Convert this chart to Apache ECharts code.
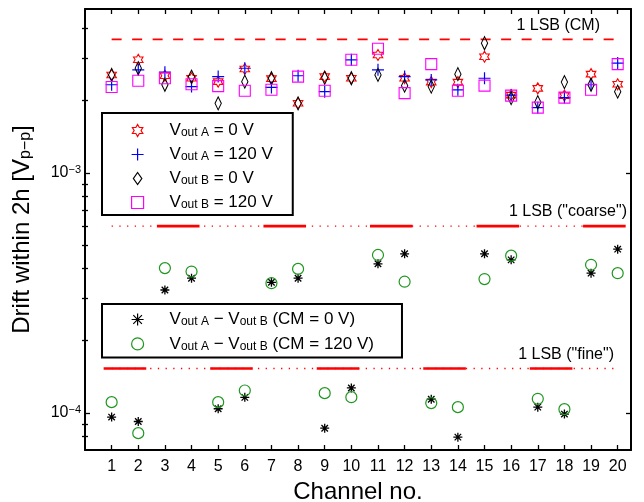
<!DOCTYPE html>
<html>
<head>
<meta charset="utf-8">
<script src="https://cdn.jsdelivr.net/npm/echarts@6/dist/echarts.min.js"></script>
<style>html,body{margin:0;padding:0;background:#fff}#c{width:644px;height:502px}</style>
</head>
<body>
<div id="c"></div>
<script>
// ---------------- data ----------------
const channels = [1,2,3,4,5,6,7,8,9,10,11,12,13,14,15,16,17,18,19,20];

const voutA_0V   = [2.56e-3,2.96e-3,2.54e-3,2.48e-3,2.40e-3,2.71e-3,2.47e-3,1.95e-3,2.52e-3,2.48e-3,3.10e-3,2.48e-3,2.39e-3,2.39e-3,3.05e-3,2.11e-3,2.25e-3,2.10e-3,2.58e-3,2.34e-3];
const voutA_120V = [2.33e-3,2.69e-3,2.63e-3,2.29e-3,2.52e-3,2.73e-3,2.27e-3,2.54e-3,2.18e-3,2.96e-3,2.69e-3,2.52e-3,2.44e-3,2.22e-3,2.48e-3,2.11e-3,1.87e-3,2.06e-3,2.33e-3,2.87e-3];
const voutB_0V   = [2.56e-3,2.73e-3,2.33e-3,2.52e-3,1.95e-3,2.40e-3,2.48e-3,1.95e-3,2.49e-3,2.48e-3,2.56e-3,2.31e-3,2.29e-3,2.58e-3,3.47e-3,2.05e-3,1.97e-3,2.39e-3,2.33e-3,2.18e-3];
const voutB_120V = [2.28e-3,2.42e-3,2.48e-3,2.34e-3,2.30e-3,2.20e-3,2.22e-3,2.52e-3,2.20e-3,2.96e-3,3.29e-3,2.15e-3,2.84e-3,2.20e-3,2.31e-3,2.10e-3,1.87e-3,2.06e-3,2.22e-3,2.84e-3];
const diff_CM0   = [0.96e-4,0.92e-4,3.25e-4,3.64e-4,1.04e-4,1.16e-4,3.50e-4,3.64e-4,0.863e-4,1.27e-4,4.18e-4,4.60e-4,1.14e-4,0.792e-4,4.60e-4,4.34e-4,1.056e-4,0.988e-4,3.82e-4,4.81e-4];
const diff_CM120 = [1.108e-4,0.823e-4,4.01e-4,3.88e-4,1.108e-4,1.239e-4,3.47e-4,3.98e-4,1.208e-4,1.162e-4,4.55e-4,3.52e-4,1.098e-4,1.056e-4,3.61e-4,4.52e-4,1.144e-4,1.036e-4,4.14e-4,3.82e-4];

const seriesNames = [
  'V_{out A} = 0 V',
  'V_{out A} = 120 V',
  'V_{out B} = 0 V',
  'V_{out B} = 120 V',
  'V_{out A} − V_{out B} (CM = 0 V)',
  'V_{out A} − V_{out B} (CM = 120 V)'
];

// 1-LSB reference levels
const lsbCM = 3.6e-3, lsbCoarse = 6.0e-4, lsbFine = 1.53e-4;
const cmSpan = [1, 20];
const dottedSpan = [1, 20];
const coarseSolid = [[2.7,4.3],[6.7,8.3],[10.7,12.3],[14.7,16.3],[18.7,20.3]];
const fineSolid   = [[0.7,2.3],[4.7,6.3],[8.7,10.3],[12.7,14.3],[16.7,18.3]];
const lsbLabels = ['1 LSB (CM)', '1 LSB ("coarse")', '1 LSB ("fine")'];

// tick values
const yMajorTicks = [1e-4, 1e-3];
const yMinorTicks = [8e-5,9e-5,2e-4,3e-4,4e-4,5e-4,6e-4,7e-4,8e-4,9e-4,2e-3,3e-3,4e-3];
const xTicks = channels;

// ---------------- styling ----------------
const FF = '"Liberation Sans", Arial, Helvetica, sans-serif';

function starPath(n, R, r) {
  let p = '';
  for (let k = 0; k < 2 * n; k++) {
    const a = -Math.PI / 2 + k * Math.PI / n;
    const rad = (k % 2) ? r : R;
    p += (k ? 'L' : 'M') + (rad * Math.cos(a)).toFixed(3) + ',' + (rad * Math.sin(a)).toFixed(3);
  }
  return 'path://' + p + 'Z';
}
const SYM = {
  hexagram: starPath(6, 5, 5 / Math.sqrt(3)),
  plus: 'path://M-5,0L5,0M0,-5L0,5',
  diamond: 'path://M0,-6L4.2,0L0,6L-4.2,0Z',
  square: 'path://M0,0L10,0L10,10L0,10Z',
  asterisk: 'path://M-5,0L5,0M0,-5L0,5M-3.6,-3.6L3.6,3.6M-3.6,3.6L3.6,-3.6',
  circle: 'circle'
};

function tex(str) {
  return str.split(/(_\{[^}]*\})/).filter(s => s.length).map(s =>
    s.startsWith('_{') ? '{s|' + s.slice(2, -1) + '}' : '{m|' + s + '}'
  ).join('');
}

function scatter(name, values, symbol, size, color, lw) {
  return {
    type: 'scatter', name: name, xAxisIndex: 0, yAxisIndex: 0,
    symbol: symbol, symbolSize: size, symbolKeepAspect: true,
    itemStyle: { color: 'rgba(0,0,0,0)', borderColor: color, borderWidth: lw, opacity: 1 },
    emphasis: { disabled: true },
    data: channels.map((c, i) => [c, values[i]]),
    z: 5
  };
}
function hline(x0, x1, v, style) {
  return {
    type: 'line', xAxisIndex: 0, yAxisIndex: 0, symbol: 'none', silent: true,
    lineStyle: style, data: [[x0, v], [x1, v]], z: 3, animation: false
  };
}

const red = '#ff0000';
const dashStyle = { color: red, width: 1.8, type: [10, 10.5] };
const dotStyle = { color: red, width: 1.3, type: [1.3, 6.4] };
const solidStyle = { color: red, width: 2.6, type: 'solid', cap: 'butt' };

const series = [
  scatter(seriesNames[0], voutA_0V, SYM.hexagram, 11, '#ff0000', 1.1),
  scatter(seriesNames[1], voutA_120V, SYM.plus, 12, '#0000ff', 1.2),
  scatter(seriesNames[2], voutB_0V, SYM.diamond, [9, 13], '#000000', 1.1),
  scatter(seriesNames[3], voutB_120V, SYM.square, 11, '#ff00ff', 1.1),
  scatter(seriesNames[4], diff_CM0, SYM.asterisk, 9, '#000000', 1.3),
  scatter(seriesNames[5], diff_CM120, SYM.circle, 11, '#1f961f', 1.2),
  hline(cmSpan[0], cmSpan[1], lsbCM, dashStyle),
  hline(dottedSpan[0], dottedSpan[1], lsbCoarse, dotStyle),
  hline(dottedSpan[0], dottedSpan[1], lsbFine, dotStyle)
];
coarseSolid.forEach(s => series.push(hline(s[0], s[1], lsbCoarse, solidStyle)));
fineSolid.forEach(s => series.push(hline(s[0], s[1], lsbFine, solidStyle)));

const axisLineStyle = { show: true, onZero: false, lineStyle: { color: '#000', width: 2 } };
const tickLine = { color: '#000', width: 1.3 };
const yMin = 7e-5, yMax = 4.82e-3;

function supLabel(v) {
  const e = Math.round(Math.log10(v));
  return '{b|10}{e|' + (e < 0 ? '−' + (-e) : e) + '}';
}

const legendRich = {
  m: { fontFamily: FF, fontSize: 17, color: '#000', lineHeight: 17, verticalAlign: 'top' },
  s: { fontFamily: FF, fontSize: 12, color: '#000', lineHeight: 12, verticalAlign: 'bottom', padding: [8, 0, 0, 0] }
};
function legendCfg(names, left, top, padding, gap) {
  return {
    show: true, orient: 'vertical', left: left, top: top,
    data: names, selectedMode: false,
    itemWidth: 54, itemHeight: 12, itemGap: gap, padding: padding,
    backgroundColor: '#fff', borderColor: '#000', borderWidth: 2, borderRadius: 0,
    symbolKeepAspect: true,
    itemStyle: { borderWidth: 1.2 },
    formatter: n => tex(n),
    textStyle: { rich: legendRich, color: '#000' }
  };
}

const option = {
  animation: false,
  backgroundColor: '#fff',
  textStyle: { fontFamily: FF },
  grid: { left: 85, right: 13, top: 9, bottom: 52, containLabel: false, outerBoundsMode: 'none' },
  xAxis: [
    {
      type: 'value', min: 0, max: 20.5, position: 'bottom',
      axisLine: axisLineStyle,
      axisTick: { show: true, inside: true, length: 5, lineStyle: tickLine, customValues: xTicks },
      axisLabel: { show: true, customValues: xTicks, margin: 9, color: '#000', fontSize: 16, fontFamily: FF },
      splitLine: { show: false },
      name: 'Channel no.', nameLocation: 'middle', nameGap: 25,
      nameTextStyle: { fontSize: 24, color: '#000', fontFamily: FF }
    },
    {
      type: 'value', min: 0, max: 20.5, position: 'top',
      axisLine: axisLineStyle,
      axisTick: { show: true, inside: true, length: 5, lineStyle: tickLine, customValues: xTicks },
      axisLabel: { show: false }, splitLine: { show: false }
    }
  ],
  yAxis: [
    {
      type: 'log', min: yMin, max: yMax, position: 'left',
      axisLine: axisLineStyle,
      axisTick: { show: true, inside: true, length: 5, lineStyle: tickLine, customValues: yMajorTicks },
      minorTick: { show: false },
      axisLabel: {
        show: true, customValues: yMajorTicks, margin: 4, formatter: supLabel,
        rich: {
          b: { fontFamily: FF, fontSize: 16, color: '#000', lineHeight: 16, verticalAlign: 'bottom' },
          e: { fontFamily: FF, fontSize: 11, color: '#000', lineHeight: 11, verticalAlign: 'top', padding: [0, 0, 12, 0] }
        }
      },
      splitLine: { show: false },
      name: tex('Drift within 2h [V_{p−p}]'), nameLocation: 'middle', nameRotate: 90, nameGap: 51,
      nameTextStyle: {
        rich: {
          m: { fontFamily: FF, fontSize: 24, color: '#000', lineHeight: 24, verticalAlign: 'top' },
          s: { fontFamily: FF, fontSize: 16, color: '#000', lineHeight: 16, verticalAlign: 'bottom', padding: [10, 0, 0, 0] }
        }
      }
    },
    {
      type: 'log', min: yMin, max: yMax, position: 'left',
      axisLine: { show: false },
      axisTick: { show: true, inside: true, length: 3, lineStyle: tickLine, customValues: yMinorTicks },
      axisLabel: { show: false }, splitLine: { show: false }
    },
    {
      type: 'log', min: yMin, max: yMax, position: 'right',
      axisLine: axisLineStyle,
      axisTick: { show: true, inside: true, length: 5, lineStyle: tickLine, customValues: yMajorTicks },
      axisLabel: { show: false }, splitLine: { show: false }
    },
    {
      type: 'log', min: yMin, max: yMax, position: 'right',
      axisLine: { show: false },
      axisTick: { show: true, inside: true, length: 3, lineStyle: tickLine, customValues: yMinorTicks },
      axisLabel: { show: false }, splitLine: { show: false }
    }
  ],
  legend: [
    legendCfg(seriesNames.slice(0, 4), 102, 113, [6, 20, 4, 29], 4),
    legendCfg(seriesNames.slice(4, 6), 102, 304, [4, 28, 5, 29], 4.4)
  ],
  graphic: [
    { type: 'text', x: 600, y: 26, silent: true, style: { text: lsbLabels[0], fill: '#000', fontSize: 16, fontFamily: FF, align: 'right', verticalAlign: 'middle' } },
    { type: 'text', x: 627, y: 212, silent: true, style: { text: lsbLabels[1], fill: '#000', fontSize: 16, fontFamily: FF, align: 'right', verticalAlign: 'middle' } },
    { type: 'text', x: 614, y: 355, silent: true, style: { text: lsbLabels[2], fill: '#000', fontSize: 16, fontFamily: FF, align: 'right', verticalAlign: 'middle' } }
  ],
  series: series
};

const chart = echarts.init(document.getElementById('c'), null, { renderer: 'canvas' });
chart.setOption(option);
</script>
</body>
</html>
